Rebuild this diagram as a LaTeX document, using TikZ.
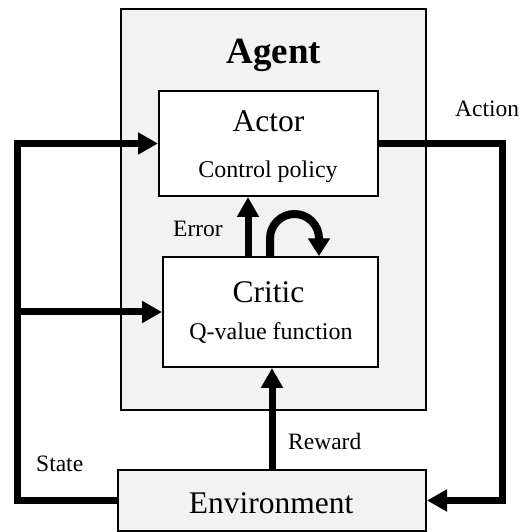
\documentclass[tikz,border=0pt]{standalone}
\usepackage{fontspec}
\setmainfont{Liberation Serif}
\newfontfamily\timesfont{Liberation Serif}
\usetikzlibrary{arrows.meta}
\definecolor{panelgray}{HTML}{F2F2F2}

\begin{document}
\begin{tikzpicture}[%
        x = 1pt, y = 1pt,
        box/.style = {draw, line width=2pt, inner sep=0pt},
        flow/.style = {line width=7pt, -{Triangle[length=20pt,width=21pt]}},
        big/.style = {font=\timesfont\fontsize{31.5}{36}\selectfont, inner sep=0pt},
        small/.style = {font=\timesfont\fontsize{24}{28}\selectfont, inner sep=0pt},
        tag/.style = {font=\timesfont\fontsize{23.5}{27}\selectfont, inner sep=0pt}
    ]
      \useasboundingbox (0,0) rectangle (520,532);
      % boxes
      \node[box, fill=panelgray, minimum width=305pt, minimum height=401pt] (agent) at (273.5,322.5) {};
      \node[box, fill=white, minimum width=219pt, minimum height=105pt] (actor) at (268.5,388.5) {};
      \node[box, fill=white, minimum width=215pt, minimum height=110pt] (critic) at (270.5,220) {};
      \node[box, fill=panelgray, minimum width=308pt, minimum height=61pt] (env) at (272,31.5) {};
      % texts
      \node[inner sep=0pt, anchor=base, font=\timesfont\fontsize{37}{40}\selectfont\bfseries] (agenttxt) at (274,468.7) {Agent};
      \node[big, anchor=base] (actortxt) at (268.5,400.3) {Actor};
      \node[small, anchor=base] (policytxt) at (268,354) {Control policy};
      \node[big, anchor=base] (critictxt) at (268.5,229.7) {Critic};
      \node[small, anchor=base] (qtxt) at (271,192) {Q-value function};
      \node[big, anchor=base] (envtxt) at (271,18.7) {Environment};
      \node[tag, anchor=base west] (action) at (455,415.3) {Action};
      \node[tag, anchor=base west] (error) at (173,295.3) {Error};
      \node[tag, anchor=base west] (reward) at (288,82.7) {Reward};
      \node[tag, anchor=base west] (state) at (36,60) {State};
      % connectors
      \coordinate (leftrail) at (17,0);
      \coordinate (rightrail) at (502,0);
      \draw[flow] (env.west) -- (leftrail |- env.west) -- (leftrail |- actor.west) -- (actor.west);
      \draw[flow] (leftrail |- critic.west) -- (critic.west);
      \draw[flow] (actor.east) -- (rightrail |- actor.east) -- (rightrail |- env.east) -- (env.east);
      \draw[flow] ([xshift=-22.5pt]critic.north) -- ([xshift=-20.5pt]actor.south);
      \draw[flow] (env.north) -- (env.north |- critic.south);
      \draw[line width=8pt, -{Triangle[length=17.5pt,width=21pt]}] ([xshift=-0.5pt]critic.north) -- ++(0,17.5)
        arc[start angle=180, end angle=0, radius=24.5] -- ([xshift=48.5pt]critic.north);
    \end{tikzpicture}
\end{document}
